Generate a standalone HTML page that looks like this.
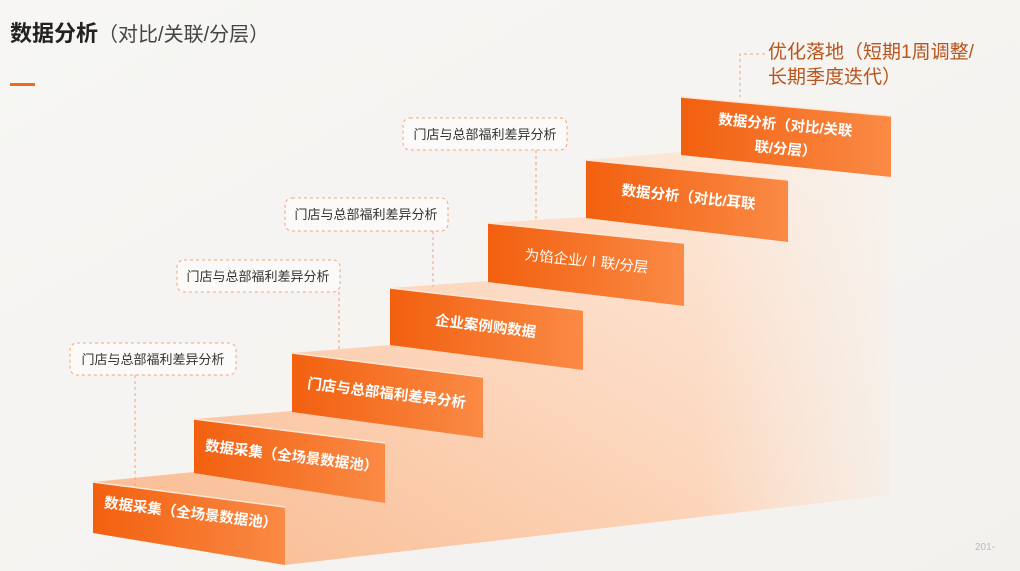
<!DOCTYPE html>
<html><head><meta charset="utf-8"><style>
html,body{margin:0;padding:0;background:#f6f5f3;}
svg{display:block;font-family:"Liberation Sans","Noto Sans CJK SC",sans-serif;}
</style></head><body>
<svg width="1020" height="571" viewBox="0 0 1020 571" xmlns="http://www.w3.org/2000/svg">
<defs>
<linearGradient id="bg" x1="0" y1="0" x2="1" y2="1">
<stop offset="0" stop-color="#f7f6f4"/><stop offset="1" stop-color="#f3f1ee"/></linearGradient>
<linearGradient id="body" x1="0" y1="1" x2="1" y2="0">
<stop offset="0" stop-color="#f9b98e"/><stop offset="0.5" stop-color="#fcd8bf"/><stop offset="1" stop-color="#fdf0e6"/></linearGradient>
<linearGradient id="fade" x1="0" y1="0" x2="1" y2="0">
<stop offset="0" stop-color="#f5f3f0" stop-opacity="0"/><stop offset="1" stop-color="#f5f3f0" stop-opacity="0.8"/></linearGradient>
<linearGradient id="riser" x1="0" y1="0" x2="1" y2="0">
<stop offset="0" stop-color="#f2600f"/><stop offset="1" stop-color="#fa8a45"/></linearGradient>
</defs>
<rect width="1020" height="571" fill="url(#bg)"/>
<text x="10" y="41" font-size="22" font-weight="bold" fill="#222">数据分析<tspan font-weight="normal" fill="#444" font-size="20">（对比/关联/分层）</tspan></text>
<rect x="10" y="83" width="25" height="3" fill="#f26a1b"/>
<polygon points="93,482 194,472 194,419 292,411 292,353 390,345 390,288 488,281 488,223 586,217 586,160 681,152 681,97 890,118 890,495 285,565" fill="url(#body)"/>
<polygon points="700,200 890,118 890,495 700,520" fill="url(#fade)"/>
<g fill="url(#riser)" stroke-linejoin="round">
<polygon points="93,482 285,507 285,565 93,533"/>
<polygon points="194,419 385,443 385,503 194,473"/>
<polygon points="292,353 483,377 483,438 292,412"/>
<polygon points="390,288 583,310 583,370 390,345"/>
<polygon points="488,223 684,243 684,306 488,282"/>
<polygon points="586,160 788,180 788,242 586,218"/>
<polygon points="681,97 891,116 891,177 681,155"/>
</g>
<g stroke="#fde6d6" stroke-width="1.5" fill="none">
<polyline points="93,482 285,507"/><polyline points="194,419 385,443"/><polyline points="292,353 483,377"/>
<polyline points="390,288 583,310"/><polyline points="488,223 684,243"/><polyline points="586,160 788,180"/><polyline points="681,97 891,116"/>
</g>
<g fill="#fff" font-size="14.5" font-weight="bold" text-anchor="middle">
<text transform="translate(190,518) rotate(7)">数据采集（全场景数据池）</text>
<text transform="translate(291,461) rotate(7)">数据采集（全场景数据池）</text>
<text transform="translate(386,398) rotate(7)">门店与总部福利差异分析</text>
<text transform="translate(485,331) rotate(7)">企业案例购数据</text>
<text transform="translate(586,266) rotate(6)" font-weight="normal">为馅企业/Ⅰ联/分层</text>
<text transform="translate(688,202) rotate(6)">数据分析（对比/耳联</text>
<text transform="translate(785,130) rotate(5)">数据分析（对比/关联</text>
<text transform="translate(785,154) rotate(5)">联/分层）</text>
</g>
<g fill="#fbfaf8" stroke="#f0a57a" stroke-dasharray="3,3" stroke-width="1">
<rect x="70" y="343" width="166" height="32" rx="7"/>
<rect x="177" y="260" width="163" height="32" rx="7"/>
<rect x="285" y="198" width="163" height="33" rx="7"/>
<rect x="403" y="118" width="164" height="32" rx="7"/>
</g>
<g stroke="#f0a57a" stroke-dasharray="3,3" stroke-width="1" fill="none">
<line x1="135" y1="375" x2="135" y2="488"/>
<line x1="339" y1="292" x2="339" y2="350"/>
<line x1="433" y1="231" x2="433" y2="287"/>
<line x1="536" y1="150" x2="536" y2="222"/>
<polyline points="765,54 740,54 740,97"/>
</g>
<g fill="#333" font-size="13" text-anchor="middle">
<text x="153" y="364">门店与总部福利差异分析</text>
<text x="258" y="281">门店与总部福利差异分析</text>
<text x="366" y="219">门店与总部福利差异分析</text>
<text x="485" y="139">门店与总部福利差异分析</text>
</g>
<g fill="#b8541c" font-size="19">
<text x="768" y="58">优化落地（短期1周调整/</text>
<text x="768" y="83">长期季度迭代）</text>
</g>
<text x="975" y="550" font-size="10" fill="#bbb">201-</text>
</svg>
</body></html>
